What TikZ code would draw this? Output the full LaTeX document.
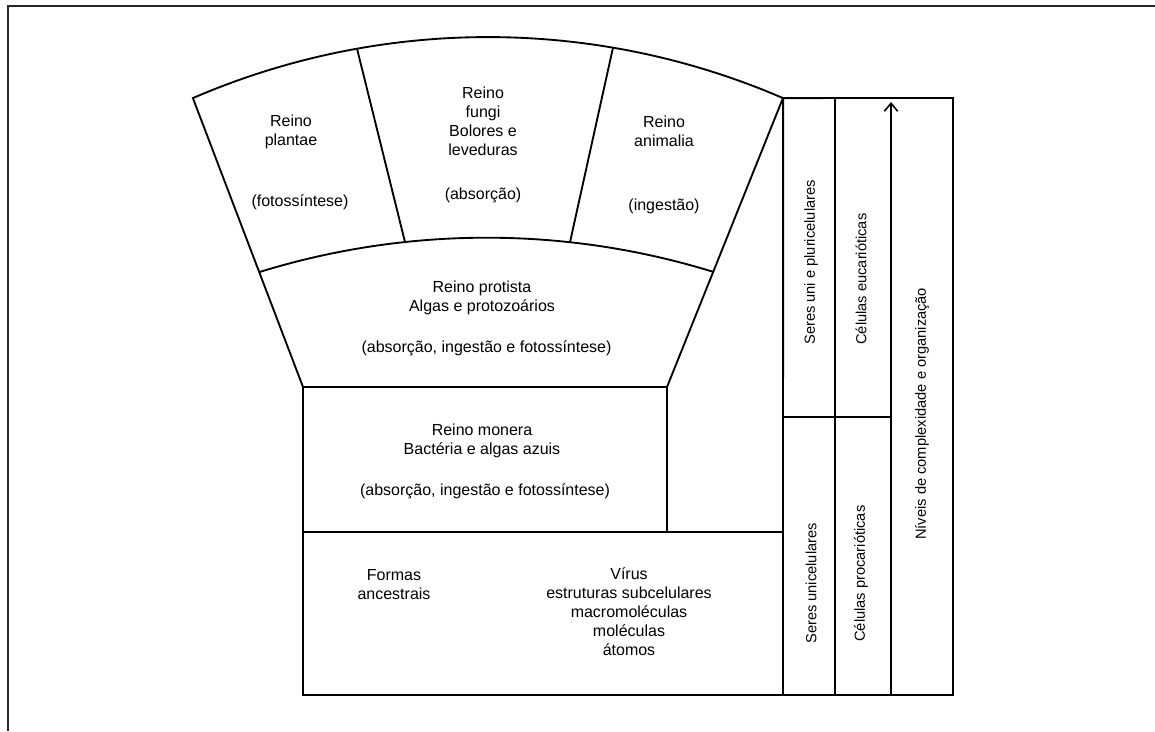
\documentclass[tikz,border=0pt]{standalone}
\usepackage{fontspec}
\setmainfont{Liberation Sans}
\usetikzlibrary{arrows.meta}
\begin{document}
\begin{tikzpicture}[x=0.75pt,y=0.75pt,
  edge/.style={line width=1.4pt, line join=miter, line cap=butt},
  frameline/.style={line width=1pt, black!85},
  lbl/.style={align=center, font=\fontsize{12}{14.25}\selectfont, inner sep=0pt},
  vlbl/.style={inner sep=0pt, font=\fontsize{11}{13}\selectfont, rotate=90, anchor=west}]
\useasboundingbox (0,0) rectangle (1155,731);
% outer frame
\coordinate (ftl) at (8,725);
\coordinate (ftr) at (1155,725);
\coordinate (fbl) at (8,0);
\draw[frameline] (ftr) -- (ftl) -- (fbl);
% fan shape
\coordinate (fanL) at (192.9,632.9);
\coordinate (fanR) at (783.1,632.9);
\coordinate (protL) at (303,344);
\coordinate (protR) at (667,344);
\draw[edge] (fanL) arc[start angle=113.37, end angle=66.63, radius=743.8] -- (protR) -- (protL) -- cycle;
% middle arc
\coordinate (midL) at (259.6,459);
\draw[edge] (midL) arc[start angle=107.19, end angle=72.81, radius=768.3];
% dividers
\coordinate (d1t) at (357.0,682.4);
\coordinate (d1b) at (405.0,488.9);
\coordinate (d2t) at (613.0,683.4);
\coordinate (d2b) at (570.0,488.8);
\draw[edge] (d1t) -- (d1b);
\draw[edge] (d2t) -- (d2b);
% lower boxes and right panel
\coordinate (monBL) at (303,199);
\coordinate (monBR) at (667,199);
\coordinate (midRight) at (783,199);
\coordinate (botBL) at (303,36);
\coordinate (pBL) at (783,36);
\coordinate (pBR) at (953,36);
\coordinate (pTR) at (953,633);
\coordinate (c2t) at (835,633);
\coordinate (c2b) at (835,36);
\coordinate (spL) at (783,314);
\coordinate (spR) at (891,314);
\coordinate (arB) at (891,36);
\coordinate (arT) at (891,629);
\draw[edge] (protL) -- (botBL) -- (pBR) -- (pTR) -- (fanR) -- (pBL);
\draw[edge] (protR) -- (monBR);
\draw[edge] (monBL) -- (midRight);
\draw[edge] (c2t) -- (c2b);
\draw[edge] (spL) -- (spR);
\draw[edge, -{Straight Barb[length=6pt,width=10pt,line width=1.2pt]}] (arB) -- (arT);
% texts
\node[lbl] (plantae) at (291,599.3) {Reino\\plantae};
\node[lbl] (plantaeN) at (300,529) {(fotossíntese)};
\node[lbl] (fungi) at (483,609.6) {Reino\\fungi\\Bolores e\\leveduras};
\node[lbl] (fungiN) at (483,536) {(absorção)};
\node[lbl] (animalia) at (664,599.3) {Reino\\animalia};
\node[lbl] (animaliaN) at (664,524.3) {(ingestão)};
\node[lbl] (protista) at (482,433.5) {Reino protista\\Algas e protozoários};
\node[lbl] (protistaN) at (486.5,382.7) {(absorção, ingestão e fotossíntese)};
\node[lbl] (monera) at (482,290) {Reino monera\\Bactéria e algas azuis};
\node[lbl] (moneraN) at (485,239.3) {(absorção, ingestão e fotossíntese)};
\node[lbl] (formas) at (394,146.5) {Formas\\ancestrais};
\node[lbl] (virus) at (629,119.3) {Vírus\\estruturas subcelulares\\macromoléculas\\moléculas\\átomos};
\node[vlbl] (seresPluri) at (811,386) {Seres uni e pluricelulares};
\node[vlbl] (celEuc) at (861,386) {Células eucarióticas};
\node[vlbl] (niveis) at (922,191) {Níveis de complexidade e organização};
\node[vlbl] (seresUni) at (811,87) {Seres unicelulares};
\node[vlbl] (celProc) at (861,89) {Células procarióticas};
\end{tikzpicture}
\end{document}
